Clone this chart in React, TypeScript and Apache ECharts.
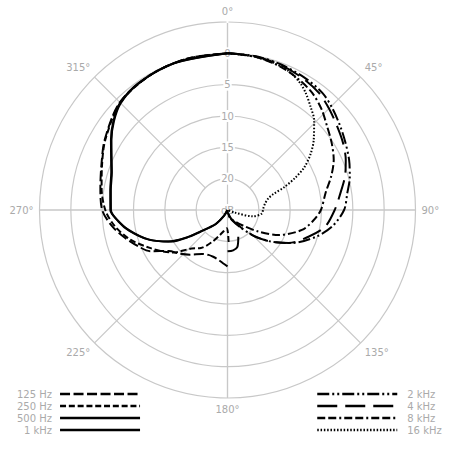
import React, { useEffect, useRef } from 'react';
import * as echarts from 'echarts';

// ---- data: [angle (deg, clockwise from front), level (dB)] ----
// Left half (low frequencies)
const f125: ([number, number] | null)[] = [
  [180, -16.0], [184, -16.4], [190, -16.9], [197, -17.2], [204, -17.2], [210, -16.9],
  [220, -15.7], [228, -14.6], [235, -13.6], [242, -11.0], [248, -9.6], [255, -8.0],
  [262, -6.4], [270, -5.0], [280, -4.4], [290, -3.6], [300, -2.4], [315, -0.7],
  [330, -0.2], [345, 0], [360, 0],
];
const f250: ([number, number] | null)[] = [
  [178, -19.9], [182, -22.1], [190, -21.6], [197, -20.8], [206, -19.3], [215, -17.6],
  [223, -16.6], [232, -14.0], [238, -12.6], [244, -11.2], [253, -8.8], [262, -6.8],
  [270, -5.5], [280, -4.6], [290, -3.7], [300, -2.5], [315, -0.8], [330, -0.2],
  [345, 0], [360, 0],
];
const f500: ([number, number] | null)[] = [
  [200, -25], [210, -24.0], [219, -22.3], [225, -21.2], [230, -20.0], [235, -17.6],
  [241, -14.6], [249, -11.7], [258, -9.0], [264, -7.5], [270, -6.4], [280, -6.1],
  [288, -5.6], [295, -4.6], [301, -3.4], [308, -2.0], [315, -0.9], [325, -0.3],
  [340, -0.1], [360, 0],
];
const f1k: ([number, number] | null)[] = [
  [158, -20.4], [165, -18.9], [172, -18.5], [180, -18.4],
  null,
  [205, -25], [212, -23.8], [220, -22.1], [226, -21.0], [231, -19.6], [236, -17.2],
  [242, -14.3], [250, -11.4], [259, -8.8], [265, -7.3], [270, -6.3], [280, -6.0],
  [288, -5.5], [295, -4.5], [301, -3.3], [308, -1.9], [315, -0.8], [325, -0.25],
  [340, -0.05], [360, 0],
];
// Right half (high frequencies)
const f2k: ([number, number] | null)[] = [
  [0, 0], [10, -0.05], [20, -0.25], [30, -0.55], [39, -0.95], [46, -1.7], [53.5, -2.6],
  [60, -3.3], [67.5, -4.0], [75, -4.8], [82, -5.7], [90, -6.4], [99, -8.1], [107, -10.3],
  [117, -13.4], [125.6, -16.3], [134, -18.9], [142, -21.3], [157, -23.3], [170, -24.5],
  [180, -25],
];
const f4k: ([number, number] | null)[] = [
  [0, 0], [10, -0.1], [20, -0.35], [30, -0.8], [38, -1.3], [45, -2.1], [52.7, -3.0],
  [60, -3.7], [67, -4.5], [74, -5.5], [81.6, -6.8], [90, -7.9], [99.7, -9.2],
  [108.3, -11.4], [118.3, -13.9], [126, -16.4], [134, -19.0], [142, -21.4], [157, -23.5],
  [170, -24.6], [180, -25],
];
const f8k: ([number, number] | null)[] = [
  [0, 0], [10, -0.15], [20, -0.6], [28, -1.2], [36, -1.95], [43, -3.0], [50, -4.25],
  [57, -5.2], [64.7, -6.25], [72, -7.6], [80, -9.1], [90, -10.1], [97, -11.2],
  [105, -12.7], [116, -15.9], [125, -19.0], [136.6, -21.7], [150, -23.0], [163, -23.6],
  [172, -24.5], [180, -25],
];
const f16k: ([number, number] | null)[] = [
  [0, 0], [10, -0.15], [17, -0.4], [24, -0.8], [30, -1.7], [34, -2.6], [39, -3.9],
  [44, -5.1], [51, -7.3], [56, -9.0], [61, -11.0], [64.5, -13.0], [68, -15.2],
  [71, -17.3], [74, -18.2], [80, -18.9], [88, -19.3], [96, -19.5], [104, -20.8],
  [110, -23.9], [118, -25], [180, -25],
];

const leftNames = ['125 Hz', '250 Hz', '500 Hz', '1 kHz'];
const rightNames = ['2 kHz', '4 kHz', '8 kHz', '16 kHz'];
const seriesData = [f125, f250, f500, f1k, f2k, f4k, f8k, f16k];
const angleMin = 0;
const angleMax = 360;
const dbMin = -25;
const dbMax = 5;
const dbStep = 5;

// ---- styles ----
const GRID = '#c8c8c8';
const LABEL = '#aaaaaa';
const dashes: (number[] | 'solid')[] = [
  [10, 3.5],
  [6, 2.8],
  'solid',
  'solid',
  [12, 3, 2, 3, 2, 3],
  [20, 8],
  [8, 3, 8, 3, 2, 3],
  [1.5, 1.8],
];

function buildOption() {
  const names = [...leftNames, ...rightNames];
  const series = names.map((name, i) => ({
    name,
    type: 'line',
    coordinateSystem: 'polar',
    polarIndex: 1,
    symbol: 'none',
    smooth: 0.3,
    connectNulls: false,
    z: 3,
    lineStyle: { color: '#000', width: 2, type: dashes[i], cap: 'butt' },
    itemStyle: { color: '#000' },
    data: seriesData[i].map((p) => (p === null ? ['-', '-'] : [p[1], p[0]])),
  }));
  const legendBase = {
    orient: 'vertical',
    top: 389,
    padding: 0,
    itemWidth: 80,
    itemHeight: 12,
    itemGap: 2,
    lineStyle: { width: 2.5 },
    itemStyle: { color: 'transparent', borderWidth: 0, opacity: 0 },
    selectedMode: false,
  };
  return {
    animation: false,
    backgroundColor: '#fff',
    textStyle: { fontFamily: 'DejaVu Sans' },
    polar: [
      { center: [227.5, 210], radius: [31.3, 188] },
      { center: [227.5, 210], radius: [0, 188] },
    ],
    angleAxis: [
      {
        polarIndex: 0,
        type: 'value',
        min: angleMin,
        max: angleMax,
        interval: 45,
        startAngle: 90,
        clockwise: true,
        z: 0,
        axisLine: { show: false },
        axisTick: { show: false },
        axisLabel: {
          color: LABEL,
          fontSize: 10,
          margin: 6,
          formatter: (v: number) => (v === 360 ? '' : `${v}°`),
        },
        splitLine: { show: true, lineStyle: { color: GRID, width: 1.2 } },
      },
      {
        polarIndex: 1,
        type: 'value',
        min: angleMin,
        max: angleMax,
        interval: 90,
        startAngle: 90,
        clockwise: true,
        z: 0,
        axisLine: { show: false },
        axisTick: { show: false },
        axisLabel: { show: false },
        splitLine: { show: true, lineStyle: { color: GRID, width: 1.2 } },
      },
    ],
    radiusAxis: [
      { polarIndex: 0, type: 'value', min: dbMin, max: dbMax, show: false },
      {
        polarIndex: 1,
        type: 'value',
        min: dbMin,
        max: dbMax,
        interval: dbStep,
        z: 1,
        axisLine: { show: false },
        axisTick: { show: false },
        splitLine: { show: true, lineStyle: { color: GRID, width: 1.2 } },
        axisLabel: {
          margin: 0,
          align: 'center',
          verticalAlign: 'middle',
          color: LABEL,
          fontSize: 10,
          backgroundColor: '#fff',
          padding: [1, 1],
          formatter: (v: number) =>
            v === dbMax ? '' : v === dbMin ? 'dB' : String(Math.abs(v)),
        },
      },
    ],
    legend: [
      {
        ...legendBase,
        left: 17,
        align: 'right',
        data: leftNames,
        textStyle: { color: LABEL, fontSize: 10, width: 40, align: 'right', padding: [0, 3, 0, 0] },
      },
      {
        ...legendBase,
        left: 316,
        align: 'left',
        data: rightNames,
        textStyle: { color: LABEL, fontSize: 10, padding: [0, 0, 0, 5] },
      },
    ],
    series,
  };
}

export default function App() {
  const ref = useRef<HTMLDivElement>(null);
  useEffect(() => {
    if (!ref.current) return;
    const chart = echarts.init(ref.current, undefined, { renderer: 'svg' });
    chart.setOption(buildOption() as any);
    return () => chart.dispose();
  }, []);
  return (
    <div
      ref={ref}
      style={{ position: 'absolute', left: 0, top: 0, width: 450, height: 450 }}
    />
  );
}
